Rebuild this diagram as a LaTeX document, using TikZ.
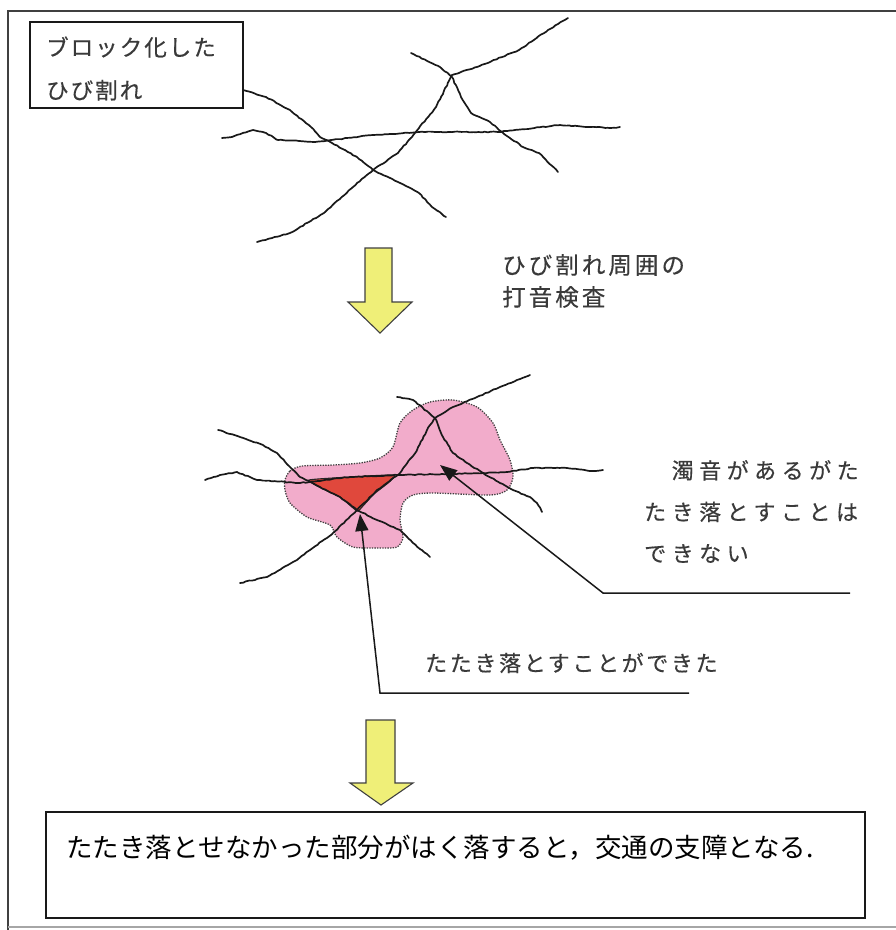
\documentclass[tikz,border=0pt]{standalone}
\usepackage{fontspec}
\setmainfont{Noto Sans CJK JP}
\newfontfamily\jpA[LetterSpace=9,FakeBold=0.4]{Noto Sans CJK JP}
\newfontfamily\jpB[LetterSpace=13,FakeBold=0.4]{Noto Sans CJK JP}
\newfontfamily\jpC[LetterSpace=25,FakeBold=0.4]{Noto Sans CJK JP}
\newfontfamily\jpD[LetterSpace=12,FakeBold=0.4]{Noto Sans CJK JP}
\usetikzlibrary{arrows.meta,decorations.pathmorphing}
\definecolor{txtgray}{HTML}{3A3A3A}
\definecolor{arrowyellow}{HTML}{EFEF78}
\definecolor{blobpink}{HTML}{F2ACCB}
\definecolor{tri}{HTML}{E0483C}
\begin{document}
\begin{tikzpicture}[x=1pt,y=-1pt,
  crack/.style={line width=1.7pt, line join=round, line cap=round, black!90,
    decorate, decoration={random steps, segment length=3pt, amplitude=0.45pt}},
  conn/.style={line width=1.5pt, black!90, line join=miter,
    -{Triangle[length=17pt,width=13pt]}},
  bigarrow/.style={fill=arrowyellow, draw=black!75, line width=1.1pt, line join=miter},
  boxframe/.style={draw=black!90, line width=1.6pt, inner sep=0pt},
  lab/.style={inner sep=0pt, text=txtgray}
]
\useasboundingbox (0,0) rectangle (896,930);
\fill[white] (0,0) rectangle (896,930);
% outer frame
\draw[black!75, line width=1.8pt] (896,11) -- (8,11) -- (8,930);
\draw[black!35, line width=1.4pt] (8,927) -- (896,927);

% ---- top: block cracks ----
\node[boxframe, minimum width=213pt, minimum height=86pt, anchor=north west] (box1) at (29,21) {};
\node[lab, anchor=west, align=left, font={\jpA\fontsize{22.5}{43}\selectfont}] (lab1) at (46,68.5) {ブロック化した\\ひび割れ};

\draw[crack] (243,90) -- (266,97) -- (290,110) -- (311,127) -- (320,137) -- (332,143) -- (357,157) -- (373,170) -- (398,182) -- (419,193) -- (432,207) -- (446,217);
\draw[crack] (222,138) -- (232,137) -- (253,130) -- (266,133) -- (278,140) -- (315,142) -- (373,135) -- (419,132) -- (498,132) -- (560,125) -- (610,128) -- (620,127);
\draw[crack] (257,242) -- (290,233) -- (324,213) -- (353,187) -- (373,170) -- (398,153) -- (415,133) -- (436,107) -- (452,75) -- (477,67) -- (519,50) -- (548,30) -- (568,18);
\draw[crack] (411,53) -- (440,67) -- (452,77) -- (461,97) -- (471,113) -- (490,122) -- (502,132) -- (523,147) -- (539,153) -- (558,172);

% arrow 1
\draw[bigarrow] (365,248) -- (392,248) -- (392,302) -- (412,302) -- (380,333) -- (348,302) -- (365,302) -- cycle;
\node[lab, anchor=west, align=left, font={\jpB\fontsize{23.5}{32}\selectfont}] (lab2) at (502,281) {ひび割れ周囲の\\打音検査};

% ---- middle: inspected area ----
\fill[blobpink]
  plot[smooth cycle, tension=0.45] coordinates {
  (285,480) (290,471) (302,466) (333,465) (360,463) (380,458) (393,447) (400,423)
  (413,410) (430,402) (453,400) (477,407) (493,423) (500,440) (510,460) (513,477)
  (507,490) (490,495) (433,493) (413,495) (403,503) (400,520) (403,537) (397,547)
  (377,548) (353,547) (337,537) (330,525) (307,517) (290,503) (285,490)};
\draw[draw=black!75, line width=1.3pt, dash pattern=on 1.3pt off 1.3pt]
  plot[smooth cycle, tension=0.45] coordinates {
  (285,480) (290,471) (302,466) (333,465) (360,463) (380,458) (393,447) (400,423)
  (413,410) (430,402) (453,400) (477,407) (493,423) (500,440) (510,460) (513,477)
  (507,490) (490,495) (433,493) (413,495) (403,503) (400,520) (403,537) (397,547)
  (377,548) (353,547) (337,537) (330,525) (307,517) (290,503) (285,490)};
\draw[fill=tri, draw=black!85, line width=1.1pt]
  plot[smooth cycle, tension=0.3] coordinates {
  (309,480) (350,477) (394,475) (388,483) (374,494) (362,507) (357,511) (340,497) (321,488)};

\draw[crack] (218,430) -- (240,437) -- (263,445) -- (277,453) -- (290,467) -- (300,477) -- (320,487) -- (340,497) -- (357,510) -- (377,520) -- (400,530) -- (413,543) -- (430,557);
\draw[crack] (205,480) -- (220,475) -- (237,472) -- (257,480) -- (300,483) -- (350,477) -- (400,475) -- (450,474) -- (507,472) -- (533,468) -- (567,468) -- (593,471) -- (603,470);
\draw[crack] (240,583) -- (267,577) -- (297,560) -- (310,550) -- (333,533) -- (357,510) -- (377,490) -- (400,473) -- (417,450) -- (427,430) -- (435,418) -- (453,407) -- (477,397) -- (500,387) -- (517,380) -- (530,375);
\draw[crack] (397,397) -- (413,400) -- (435,418) -- (443,437) -- (453,453) -- (467,463) -- (483,473) -- (500,483) -- (513,490) -- (530,497) -- (537,503) -- (542,512);

% labels and leaders
\node[lab, anchor=west, align=left, font={\jpC\fontsize{22}{41.5}\selectfont}] (lab3) at (644,511.5) {　濁音があるがた\\たき落とすことは\\できない};
\node[lab, anchor=west, font={\jpD\fontsize{22}{30}\selectfont}] (lab4) at (425,663) {たたき落とすことができた};

\coordinate (tipB) at (440,465);
\coordinate (kneeB) at (603,593);
\coordinate (endB) at (850,593);
\draw[conn] (endB) -- (kneeB) -- (tipB);

\coordinate (tipA) at (360,514);
\coordinate (kneeA) at (380,693);
\coordinate (endA) at (689,693);
\draw[conn] (endA) -- (kneeA) -- (tipA);

% arrow 2
\draw[bigarrow] (366,720) -- (395,720) -- (395,783) -- (413,783) -- (381,805) -- (350,783) -- (366,783) -- cycle;

% ---- bottom box ----
\node[boxframe, minimum width=819pt, minimum height=106pt, anchor=north west] (box2) at (45,811) {};
\node[inner sep=0pt, anchor=west, font={\fontsize{26.5}{30}\selectfont}] (lab5) at (66,848) {たたき落とせなかった部分がはく落すると，交通の支障となる.};
\end{tikzpicture}
\end{document}
